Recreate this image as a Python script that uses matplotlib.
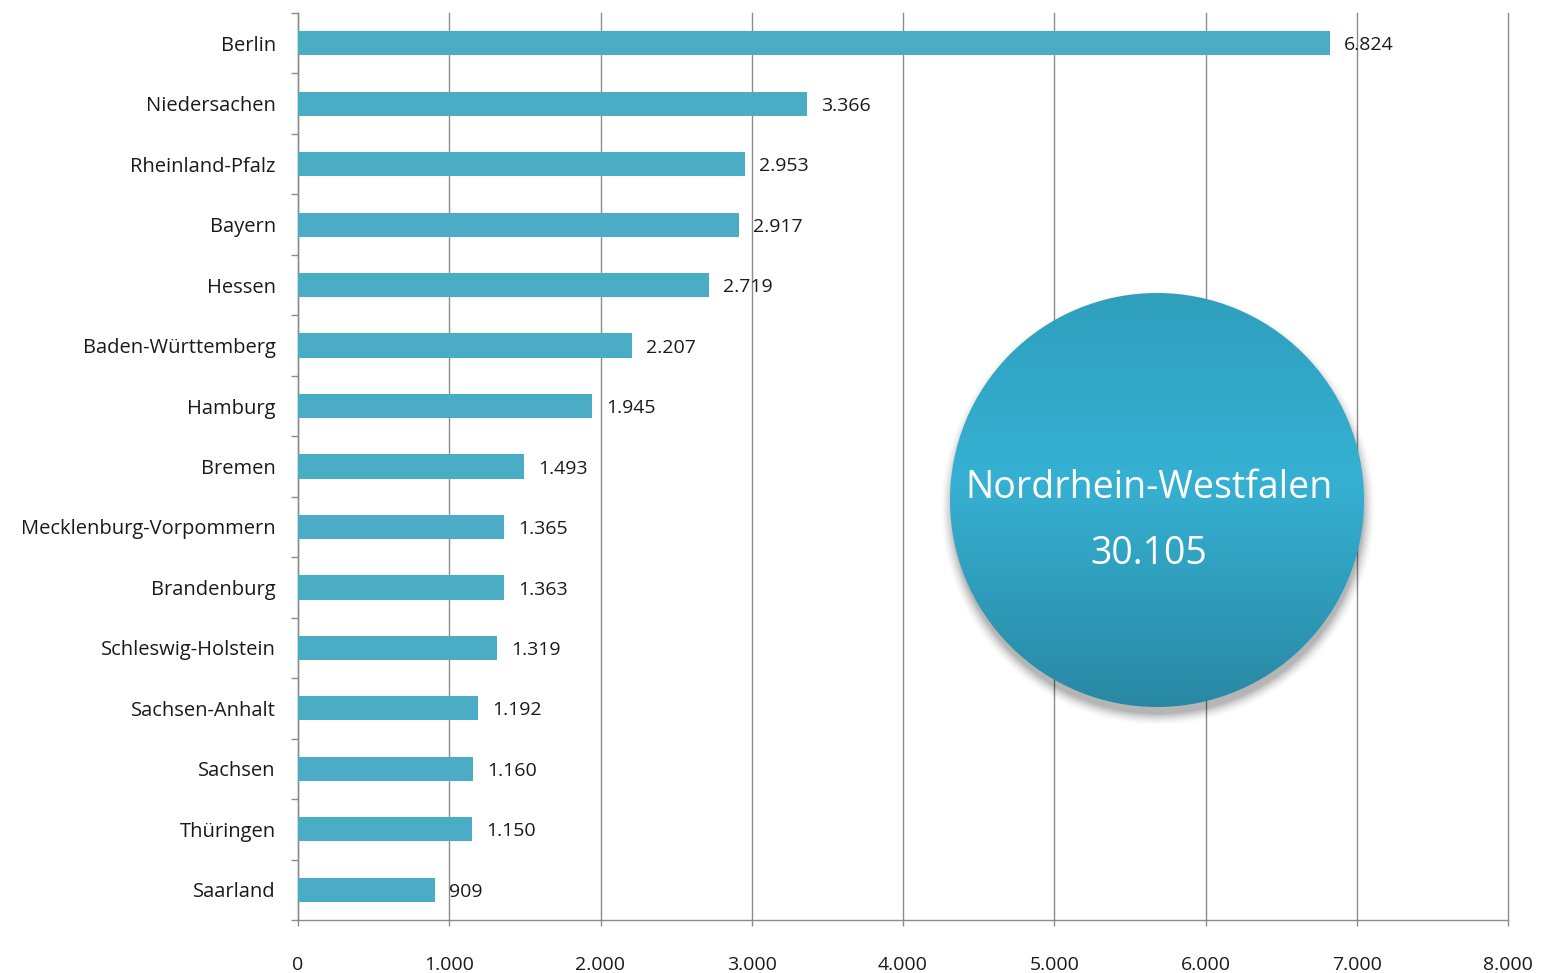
import numpy as np
import matplotlib
matplotlib.use('Agg')
import matplotlib.pyplot as plt
from matplotlib.patches import Circle
from matplotlib.ticker import FuncFormatter, MultipleLocator

plt.rcParams['font.family'] = ['Open Sans', 'DejaVu Sans']

# Data
states = ['Berlin', 'Niedersachen', 'Rheinland-Pfalz', 'Bayern', 'Hessen',
          'Baden-Württemberg', 'Hamburg', 'Bremen', 'Mecklenburg-Vorpommern',
          'Brandenburg', 'Schleswig-Holstein', 'Sachsen-Anhalt', 'Sachsen',
          'Thüringen', 'Saarland']
values = [6824, 3366, 2953, 2917, 2719, 2207, 1945, 1493, 1365, 1363,
          1319, 1192, 1160, 1150, 909]
highlight_name = 'Nordrhein-Westfalen'
highlight_value = 30105

BAR = '#4BACC6'
GRID = '#8C8C8C'
TXT = '#1A1A1A'


def de_fmt(v):
    return f'{int(v):,}'.replace(',', '.')


fig = plt.figure(figsize=(15.41, 9.73), dpi=100)
ax = fig.add_axes([298 / 1541, 53 / 973, 1210 / 1541, 907 / 973])

y = np.arange(len(states))
ax.barh(y, values, height=0.4, color=BAR, zorder=3)
ax.set_ylim(len(states) - 0.5, -0.5)
ax.set_xlim(0, 8000)

ax.xaxis.set_major_locator(MultipleLocator(1000))
ax.xaxis.set_major_formatter(FuncFormatter(lambda v, p: de_fmt(v)))
ax.grid(axis='x', color=GRID, linewidth=1.0, zorder=1)
ax.set_axisbelow(True)
for gl in ax.get_xgridlines():
    gl.set_clip_on(False)

ax.set_yticks(y)
ax.set_yticklabels(states)
ax.set_yticks(np.arange(len(states) + 1) - 0.5, minor=True)
ax.tick_params(axis='y', which='major', length=0, pad=16, labelsize=14.5, labelcolor=TXT)
ax.tick_params(axis='y', which='minor', length=5, width=1, color=GRID, direction='out')
ax.tick_params(axis='x', which='major', length=4, width=1, color=GRID,
               direction='out', pad=22, labelsize=14, labelcolor=TXT)

for s in ['top', 'right']:
    ax.spines[s].set_visible(False)
for s in ['left', 'bottom']:
    ax.spines[s].set_color(GRID)
    ax.spines[s].set_linewidth(1.0)

for yi, v in zip(y, values):
    ax.annotate(de_fmt(v), xy=(v, yi), xytext=(10, -1.5), textcoords='offset points',
                ha='left', va='center', fontsize=14, color=TXT, zorder=4)

# Highlight bubble in pixel coordinates
ov = fig.add_axes([0, 0, 1, 1])
ov.set_xlim(0, 1541)
ov.set_ylim(973, 0)
ov.axis('off')
ov.patch.set_alpha(0)

cx, cy, r = 1157, 500, 207
for i, a in enumerate(np.linspace(0.008, 0.045, 12)):
    ov.add_patch(Circle((cx + 1, cy + 8), r + 10 - i, color='black', alpha=a,
                        linewidth=0, zorder=1))

t = np.linspace(0, 1, 256)
top_c = np.array([0x2F, 0x9F, 0xBD]) / 255
mid_c = np.array([0x36, 0xB1, 0xD3]) / 255
bot_c = np.array([0x28, 0x88, 0xA3]) / 255
cols = np.where(t[:, None] < 0.45,
                top_c + (mid_c - top_c) * (t[:, None] / 0.45),
                mid_c + (bot_c - mid_c) * ((t[:, None] - 0.45) / 0.55))
grad = np.repeat(cols[:, None, :], 2, axis=1)
im = ov.imshow(grad, extent=(cx - r, cx + r, cy + r, cy - r), aspect='auto',
               interpolation='bilinear', zorder=2)
clip = Circle((cx, cy), r, transform=ov.transData)
im.set_clip_path(clip)

ov.text(cx - 8, 488, highlight_name, ha='center', va='center', fontsize=27,
        color='white', zorder=3)
ov.text(cx - 8, 554, de_fmt(highlight_value), ha='center', va='center', fontsize=27,
        color='white', zorder=3)

fig.savefig('out.png', dpi=100)
